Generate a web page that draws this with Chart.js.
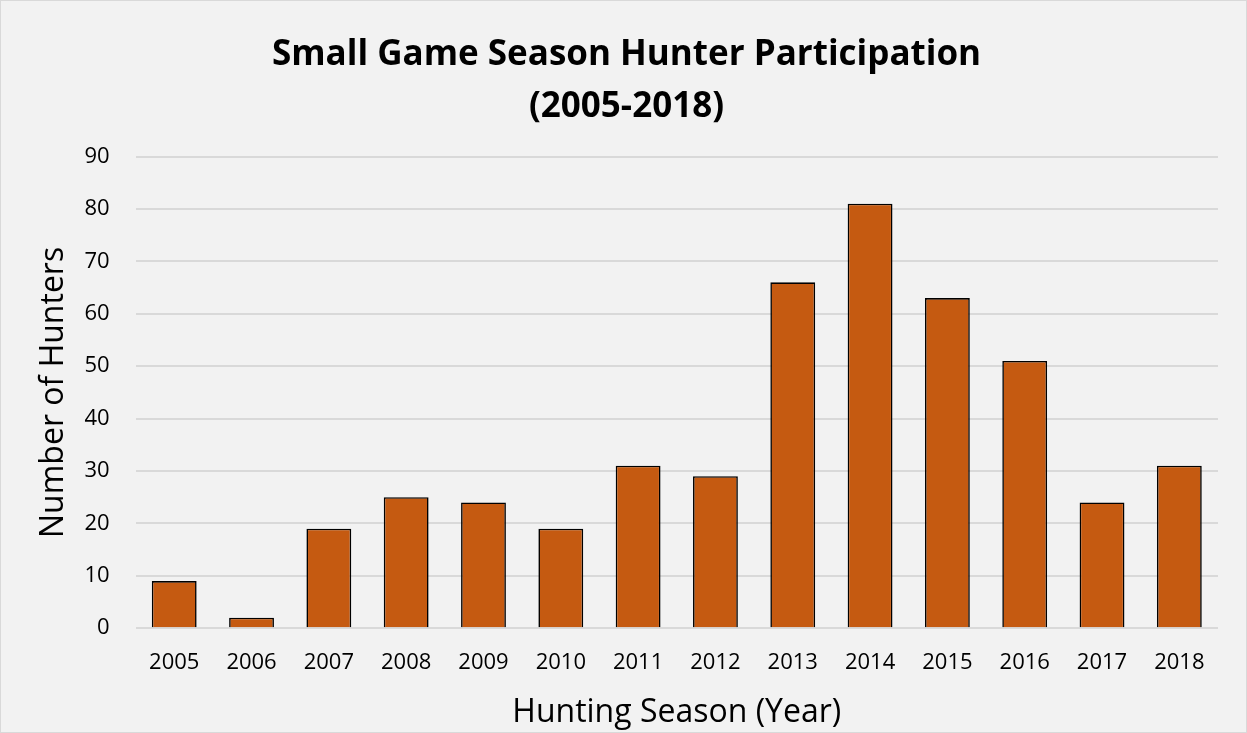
<!DOCTYPE html>
<html>
<head>
<meta charset="utf-8">
<script src="https://cdn.jsdelivr.net/npm/chart.js@4"></script>
<style>
  html, body { margin: 0; padding: 0; background: #f2f2f2; }
  .wrap {
    position: relative;
    width: 1245px;
    height: 731px;
    border: 1px solid #d9d9d9;
    background: #f2f2f2;
  }
</style>
</head>
<body>
<div class="wrap">
  <canvas id="chart"></canvas>
</div>
<script>
// hunting seasons and hunter counts
const seasons = ['2005', '2006', '2007', '2008', '2009', '2010', '2011',
                 '2012', '2013', '2014', '2015', '2016', '2017', '2018'];
const hunters = [9, 2, 19, 25, 24, 19, 31, 29, 66, 81, 63, 51, 24, 31];

const yMin = 0;
const yMax = 90;
const yStep = 10;

const FONT = "'Open Sans', 'Liberation Sans', sans-serif";

const ctx = document.getElementById('chart').getContext('2d');

new Chart(ctx, {
  type: 'bar',
  data: {
    labels: seasons,
    datasets: [{
      label: 'Number of Hunters',
      data: hunters,
      backgroundColor: '#c55a11',
      borderColor: '#000000',
      borderWidth: 1.6,
      borderSkipped: 'bottom',
      barPercentage: 0.58,
      categoryPercentage: 1.0
    }]
  },
  options: {
    responsive: true,
    maintainAspectRatio: false,
    animation: false,
    layout: {
      padding: { left: 34, right: 28, top: 14, bottom: 0 }
    },
    plugins: {
      legend: { display: false },
      tooltip: { enabled: false },
      title: {
        display: true,
        text: ['Small Game Season Hunter Participation', '(2005-2018)'],
        color: '#000000',
        font: { family: FONT, size: 35, weight: 'bold', lineHeight: 1.48 },
        padding: { top: 14, bottom: 24 }
      }
    },
    scales: {
      x: {
        grid: { display: false },
        border: { display: false },
        ticks: {
          color: '#000000',
          font: { family: FONT, size: 22 },
          padding: 13,
          maxRotation: 0
        },
        title: {
          display: true,
          text: 'Hunting Season (Year)',
          color: '#000000',
          font: { family: FONT, size: 32 },
          padding: { top: 5, bottom: 0 }
        }
      },
      y: {
        min: yMin,
        max: yMax,
        grid: { color: '#d9d9d9', lineWidth: 2, drawTicks: false },
        border: { display: false },
        ticks: {
          stepSize: yStep,
          color: '#000000',
          font: { family: FONT, size: 22 },
          padding: 26
        },
        title: {
          display: true,
          text: 'Number of Hunters',
          color: '#000000',
          font: { family: FONT, size: 32 },
          padding: { top: 0, bottom: -15 }
        }
      }
    }
  }
});
</script>
</body>
</html>
